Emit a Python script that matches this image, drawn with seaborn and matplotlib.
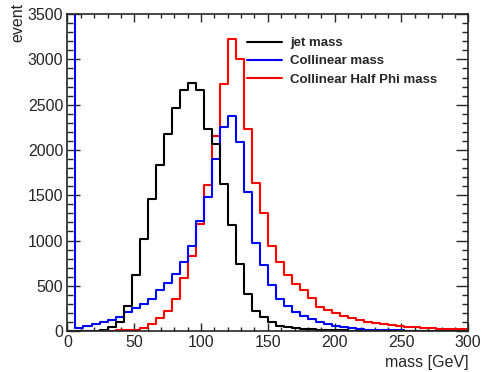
import numpy as np
import pandas as pd
import seaborn as sns
from matplotlib import pyplot as plt
from matplotlib.lines import Line2D
from matplotlib.ticker import MultipleLocator

# 6 GeV bins from 0 to 300
bin_edges = list(range(0, 301, 6))

jet_mass = [0, 1, 2, 5, 12, 45, 100, 275, 618, 1022,
            1463, 1838, 2180, 2463, 2658, 2739, 2658, 2235, 2063, 1629,
            1169, 745, 410, 220, 150, 100, 60, 42, 30, 24,
            20, 16, 12, 9, 7, 6, 5, 4, 3, 3,
            2, 2, 2, 1, 1, 1, 1, 1, 1, 1]

collinear_mass = [4500, 36, 55, 77, 103, 121, 158, 213, 250, 298,
                  350, 450, 530, 629, 765, 940, 1218, 1476, 1895, 2249,
                  2377, 2090, 1537, 975, 727, 510, 358, 280, 210, 170,
                  128, 100, 80, 55, 40, 30, 22, 16, 12, 10,
                  8, 7, 6, 5, 4, 4, 3, 3, 3, 3]

half_phi_mass = [2, 2, 3, 3, 5, 6, 8, 12, 15, 35,
                 75, 140, 225, 350, 585, 825, 1180, 1610, 2150, 2730,
                 3220, 3000, 2235, 1630, 1300, 935, 765, 615, 515, 453,
                 361, 269, 232, 200, 172, 145, 122, 100, 90, 77,
                 66, 58, 50, 40, 33, 30, 28, 20, 18, 28]

series_names = ["jet mass", "Collinear mass", "Collinear Half Phi mass"]
palette = {"jet mass": "black",
           "Collinear mass": "#0000ff",
           "Collinear Half Phi mass": "#ff0000"}

centers = [(a + b) / 2 for a, b in zip(bin_edges[:-1], bin_edges[1:])]
rows = []
for name, vals in zip(series_names, [jet_mass, collinear_mass, half_phi_mass]):
    for c, v in zip(centers, vals):
        rows.append((name, c, v))
df = pd.DataFrame(rows, columns=["series", "mass", "count"])

sns.set_style("ticks")
plt.rcParams['font.family'] = ['Liberation Sans', 'DejaVu Sans']

fig = plt.figure(figsize=(4.96, 3.72), dpi=100)
ax = fig.add_axes([0.136, 0.110, 0.808, 0.852])

sns.histplot(data=df, x="mass", weights="count", hue="series",
             hue_order=series_names, palette=palette, bins=bin_edges,
             element="step", fill=False, linewidth=1.5, legend=False, ax=ax)

ax.set_xlim(0, 300)
ax.set_ylim(0, 3500)
ax.xaxis.set_major_locator(MultipleLocator(50))
ax.xaxis.set_minor_locator(MultipleLocator(10))
ax.yaxis.set_major_locator(MultipleLocator(500))
ax.yaxis.set_minor_locator(MultipleLocator(100))
ax.tick_params(which="both", direction="in", top=True, right=True,
               labelsize=11.5, width=1)
ax.tick_params(axis="x", which="major", length=6, pad=3)
ax.tick_params(axis="x", which="minor", length=3)
ax.tick_params(axis="y", which="major", length=9, pad=3)
ax.tick_params(axis="y", which="minor", length=4)
for sp in ax.spines.values():
    sp.set_linewidth(1.2)

ax.set_xlabel("mass [GeV]", fontsize=11.5, loc="right")
ax.xaxis.set_label_coords(1.0, -0.075)
ax.set_ylabel("event", fontsize=11.5, loc="top")
ax.yaxis.set_label_coords(-0.105, 1.035)

handles = [Line2D([], [], color=palette[n], lw=1.5) for n in series_names]
ax.legend(handles, series_names, loc="upper left",
          bbox_to_anchor=(0.498, 0.900), bbox_transform=fig.transFigure,
          frameon=False, borderpad=0, borderaxespad=0,
          handlelength=2.65, handletextpad=0.6, labelspacing=0.44,
          prop={"size": 9.5, "weight": "bold"})

plt.savefig("out.png", dpi=100)
